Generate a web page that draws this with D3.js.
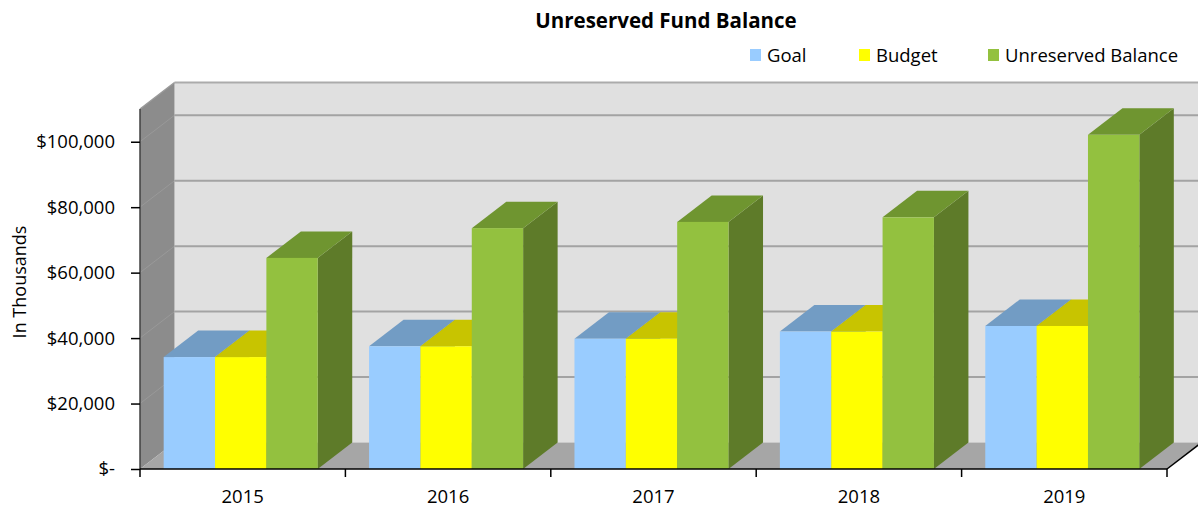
<!DOCTYPE html>
<html>
<head>
<meta charset="utf-8">
<script src="https://cdn.jsdelivr.net/npm/d3@7"></script>
<style>
  html, body { margin: 0; padding: 0; background: #ffffff; }
  svg { display: block; }
  text { font-family: "Open Sans", "Noto Sans", sans-serif; fill: #000; }
</style>
</head>
<body>
<svg id="chart" width="1198" height="508"></svg>
<script>
// ---- data ----
const categories = ["2015", "2016", "2017", "2018", "2019"];
const seriesNames = ["Goal", "Budget", "Unreserved Balance"];
const goalValues = [34200, 37500, 39800, 42000, 43700];
const budgetValues = [34200, 37500, 39800, 42000, 43700];
const balanceValues = [64500, 73600, 75500, 76900, 102100];
const yTickValues = [0, 20000, 40000, 60000, 80000, 100000];
const yTickLabels = ["$-", "$20,000", "$40,000", "$60,000", "$80,000", "$100,000"];
const titleText = "Unreserved Fund Balance";
const yAxisTitle = "In Thousands";

(function () {
const seriesValues = [goalValues, budgetValues, balanceValues];
const seriesColors = [
  { front: "#99ccff", top: "#729cc4", side: "#5f86ad" },
  { front: "#ffff00", top: "#c8c400", side: "#a8a400" },
  { front: "#93c13f", top: "#6f9530", side: "#5e7b29" }
];

// ---- layout ----
const svg = d3.select("#chart");
const pLeft = 140, pRight = 1167, pBottom = 469, pTop = 109;
const dx = 34.5, dy = 26.5;
const yMax = 110000;

const x = d3.scaleBand().domain(categories).range([pLeft, pRight]).paddingInner(0).paddingOuter(0);
const xs = d3.scaleBand().domain(seriesNames).range([-2, x.bandwidth() - 2]).paddingInner(0).paddingOuter(0.5);
const y = d3.scaleLinear().domain([0, yMax]).range([pBottom, pTop]);

const poly = pts => pts.map(p => p.join(",")).join(" ");

// back wall
svg.append("polygon")
  .attr("points", poly([[pLeft + dx, y(0) - dy], [pRight + dx, y(0) - dy], [pRight + dx, y(yMax) - dy], [pLeft + dx, y(yMax) - dy]]))
  .attr("fill", "#e0e0e0");
svg.append("line")
  .attr("x1", pLeft + dx).attr("x2", pRight + dx)
  .attr("y1", y(yMax) - dy).attr("y2", y(yMax) - dy)
  .attr("stroke", "#ababab").attr("stroke-width", 2);

// left wall
svg.append("polygon")
  .attr("points", poly([[pLeft, y(0)], [pLeft + dx, y(0) - dy], [pLeft + dx, y(yMax) - dy], [pLeft, y(yMax)]]))
  .attr("fill", "#8c8c8c");

// floor
svg.append("polygon")
  .attr("points", poly([[pLeft, y(0)], [pRight, y(0)], [pRight + dx, y(0) - dy], [pLeft + dx, y(0) - dy]]))
  .attr("fill", "#a6a6a6");

// gridlines (back wall + left wall)
yTickValues.filter(v => v > 0).forEach(v => {
  svg.append("line")
    .attr("x1", pLeft + dx).attr("x2", pRight + dx)
    .attr("y1", y(v) - dy).attr("y2", y(v) - dy)
    .attr("stroke", "#a3a3a3").attr("stroke-width", 2);
  svg.append("line")
    .attr("x1", pLeft).attr("x2", pLeft + dx)
    .attr("y1", y(v)).attr("y2", y(v) - dy)
    .attr("stroke", "#999999").attr("stroke-width", 1);
});
svg.append("line")
  .attr("x1", pLeft).attr("x2", pLeft + dx)
  .attr("y1", y(yMax)).attr("y2", y(yMax) - dy)
  .attr("stroke", "#9a9a9a").attr("stroke-width", 1.5);

// bars
categories.forEach((c, ci) => {
  seriesNames.forEach((s, si) => {
    const v = seriesValues[si][ci];
    const x0 = x(c) + xs(s), x1 = x0 + xs.bandwidth();
    const yt = y(v), yb = y(0);
    const col = seriesColors[si];
    const g = svg.append("g");
    g.append("polygon")
      .attr("points", poly([[x1, yb], [x1 + dx, yb - dy], [x1 + dx, yt - dy], [x1, yt]]))
      .attr("fill", col.side);
    g.append("polygon")
      .attr("points", poly([[x0, yt], [x1, yt], [x1 + dx, yt - dy], [x0 + dx, yt - dy]]))
      .attr("fill", col.top);
    g.append("rect")
      .attr("x", x0).attr("y", yt).attr("width", xs.bandwidth()).attr("height", yb - yt)
      .attr("fill", col.front);
  });
});

// axis lines
svg.append("line").attr("x1", pLeft).attr("x2", pLeft).attr("y1", y(yMax)).attr("y2", y(0))
  .attr("stroke", "#404040").attr("stroke-width", 1.5);
svg.append("line").attr("x1", pLeft).attr("x2", pRight).attr("y1", y(0)).attr("y2", y(0))
  .attr("stroke", "#000").attr("stroke-width", 1.5);
svg.append("line").attr("x1", pRight).attr("x2", pRight + dx).attr("y1", y(0)).attr("y2", y(0) - dy)
  .attr("stroke", "#000").attr("stroke-width", 1.5);

// y axis ticks & labels
const yAxis = d3.axisLeft(y).tickValues(yTickValues).tickSize(9).tickPadding(16)
  .tickFormat((d, i) => yTickLabels[i]);
const yg = svg.append("g").attr("transform", `translate(${pLeft},0)`).call(yAxis);
yg.select(".domain").remove();
yg.selectAll(".tick line").attr("stroke", "#000").attr("stroke-width", 1.5);
yg.selectAll(".tick text").attr("font-size", 18.5).attr("font-family", "Open Sans").attr("fill", "#000");

// x axis ticks (at category boundaries) & labels
const boundaries = categories.map(c => x(c)).concat([pRight]);
svg.selectAll(".xtick").data(boundaries).enter().append("line")
  .attr("x1", d => d).attr("x2", d => d).attr("y1", y(0)).attr("y2", y(0) + 8)
  .attr("stroke", "#000").attr("stroke-width", 1.5);
svg.selectAll(".xlab").data(categories).enter().append("text")
  .attr("x", d => x(d) + x.bandwidth() / 2).attr("y", 503)
  .attr("text-anchor", "middle").attr("font-size", 18.5).text(d => d);

// y axis title
svg.append("text")
  .attr("transform", "translate(26,282) rotate(-90)")
  .attr("text-anchor", "middle").attr("font-size", 18).text(yAxisTitle);

// title
svg.append("text").attr("x", 666).attr("y", 28).attr("text-anchor", "middle")
  .attr("font-size", 20.5).attr("font-weight", "bold").text(titleText);

// legend
const legendX = [750, 859, 988];
seriesNames.forEach((s, i) => {
  svg.append("rect").attr("x", legendX[i]).attr("y", 49).attr("width", 11).attr("height", 12)
    .attr("fill", seriesColors[i].front);
  svg.append("text").attr("x", legendX[i] + 17).attr("y", 62).attr("font-size", 18.5).text(s);
});
})();
</script>
</body>
</html>
